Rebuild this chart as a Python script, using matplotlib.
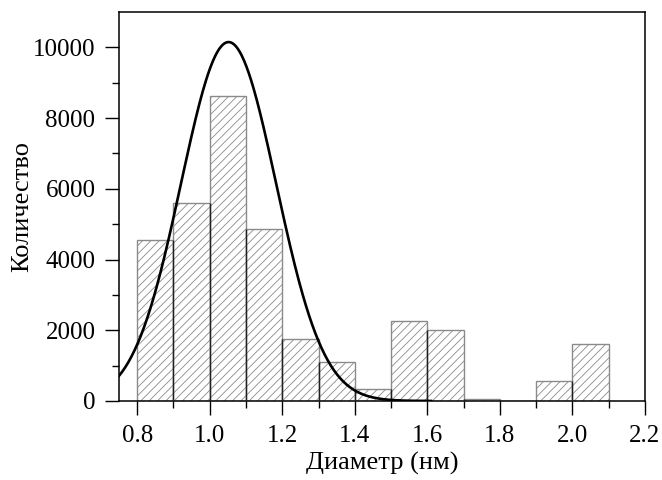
import numpy as np
import matplotlib
matplotlib.use('Agg')
import matplotlib.pyplot as plt

plt.rcParams['font.family'] = ['Liberation Serif', 'DejaVu Serif']
plt.rcParams['hatch.linewidth'] = 0.6

# histogram bins (nm) and counts
bin_left = [0.8, 0.9, 1.0, 1.1, 1.2, 1.3, 1.4, 1.5, 1.6, 1.7, 1.8, 1.9, 2.0]
counts = [4550, 5590, 8630, 4860, 1755, 1105, 330, 2255, 2000, 50, 0, 565, 1605]
bin_width = 0.1

# gaussian fit parameters
fit_center = 1.052
fit_sigma = 0.131
fit_amp = 10150
fit_range = (0.75, 1.61)

x_ticks = [0.8, 1.0, 1.2, 1.4, 1.6, 1.8, 2.0, 2.2]
y_ticks = [0, 2000, 4000, 6000, 8000, 10000]


def gauss(x):
    return fit_amp * np.exp(-(x - fit_center) ** 2 / (2 * fit_sigma ** 2))


fig = plt.figure(figsize=(6.62, 4.8), dpi=100)
ax = fig.add_axes([0.1798, 0.1646, 0.9743 - 0.1798, 0.975 - 0.1646])

# hatched fill, gray edges
ax.bar(bin_left, counts, width=bin_width, align='edge', color='white',
       edgecolor='#8a8a8a', hatch='////', linewidth=1.0, zorder=2)

# darker shared edges between neighbouring bars
for i in range(1, len(bin_left)):
    h = min(counts[i - 1], counts[i])
    if h > 0:
        ax.vlines(bin_left[i], 0, h, color='#202020', linewidth=1.0, zorder=3)

xs = np.linspace(fit_range[0], fit_range[1], 400)
ax.plot(xs, gauss(xs), color='black', linewidth=1.9, zorder=4)

ax.set_xlim(0.75, 2.2)
ax.set_ylim(0, 11000)
ax.set_xticks(x_ticks)
ax.set_xticklabels(['%.1f' % v for v in x_ticks])
ax.set_xticks(np.arange(0.8, 2.25, 0.1), minor=True)
ax.set_yticks(y_ticks)
ax.set_yticks(np.arange(1000, 11000, 2000), minor=True)

ax.tick_params(axis='both', which='major', length=10, width=1.0,
               direction='out', labelsize=18, pad=7)
ax.tick_params(axis='both', which='minor', length=5, width=1.0,
               direction='out')
for s in ax.spines.values():
    s.set_linewidth(1.1)

ax.set_xlabel('Диаметр (нм)', fontsize=19, labelpad=4)
ax.set_ylabel('Количество', fontsize=19, labelpad=0)

fig.savefig('out.png', dpi=100)
